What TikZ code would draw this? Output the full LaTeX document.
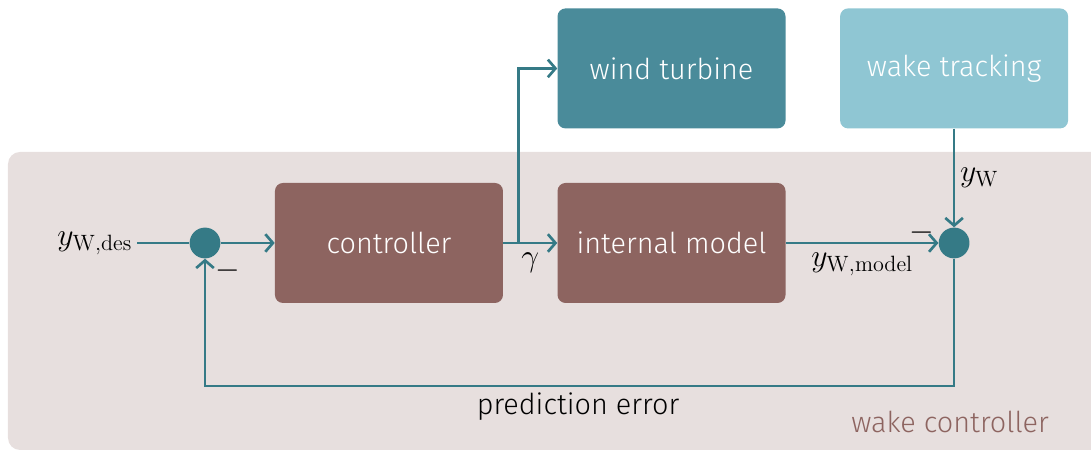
\RequirePackage{fix-cm}
\documentclass[tikz,border=0pt]{standalone}
\usepackage[no-math]{fontspec}
\setmainfont{Fira Sans Light}
\usetikzlibrary{arrows.meta,positioning}

\definecolor{ctrlbrown}{HTML}{8D6460}
\definecolor{panelgrey}{HTML}{E7DFDE}
\definecolor{turbineteal}{HTML}{4A8B9A}
\definecolor{trackingblue}{HTML}{8FC6D3}
\definecolor{linecol}{HTML}{357A86}

\begin{document}
\begin{tikzpicture}[
    block/.style={rectangle, rounded corners=0.2cm, fill=ctrlbrown, text=white, minimum width=5.7cm, minimum height=3cm, font=\fontsize{20.5}{24}\selectfont},
    sum/.style={circle, fill=linecol, minimum size=0.77cm, inner sep=0pt},
    line/.style={draw=linecol, -{Straight Barb[length=1.9mm,width=4.4mm]}, line width=1.9pt},
    lbl/.style={font=\fontsize{20.5}{24}\selectfont},
    mlbl/.style={font=\fontsize{22.5}{27}\selectfont},
    node distance=1.35cm
]
\useasboundingbox (0,0) rectangle (27.275,11.3);

% Wake controller panel
\fill[panelgrey, rounded corners=0.3cm] (0.2,0.05) rectangle (27.6,7.5);

% Define nodes
\node[sum] (sumin) at (5.125,5.225) {};
\node[block, right=of sumin] (controller) {controller};
\node[block, right=of controller] (model) {internal model};
\node[block, fill=turbineteal, above=of model] (turbine) {wind turbine};
\node[block, fill=trackingblue, right=of turbine] (tracking) {\raisebox{1.5pt}{wake tracking}};
\node[sum] (sumout) at (tracking |- model) {};
\coordinate (input) at (3.425,5.225);
\coordinate[right=0.375cm of controller] (branch);
\coordinate (fb) at (14.45,1.65);
\node[mlbl, left=0pt of input] (ydes) {$y_{\mathrm{W,des}}$};
\node[mlbl] (minusin) at ([shift={(0.575,-0.7)}]sumin) {$-$};
\node[mlbl] (minusout) at ([shift={(-0.8,0.25)}]sumout) {$-$};
\node[lbl, below=0.05cm of fb] (prederr) {prediction error};
\node[lbl, text=ctrlbrown] (wakectrl) at (23.75,0.75) {wake controller};

% Connect nodes
\draw[line, -] (input) -- (sumin);
\draw[line] (sumin) -- (controller);
\draw[line] (controller) -- node[mlbl, below, yshift=-3pt] {$\gamma$} (model);
\draw[line] (branch) |- (turbine);
\draw[line] (model) -- node[mlbl, below, yshift=-3pt] {$y_{\mathrm{W,model}}$} (sumout);
\draw[line] (tracking) -- node[mlbl, right] {$y_{\mathrm{W}}$} (sumout);
\draw[line] (sumout) |- (fb) -| (sumin);

\end{tikzpicture}
\end{document}
